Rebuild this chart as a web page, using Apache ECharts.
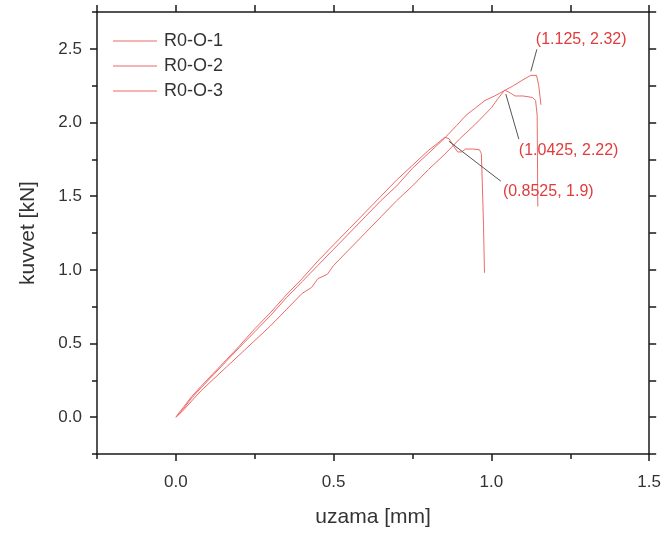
<!DOCTYPE html>
<html>
<head>
<meta charset="utf-8">
<script src="https://cdn.jsdelivr.net/npm/echarts@6/dist/echarts.min.js"></script>
<style>
html,body{margin:0;padding:0;background:#fff;}
#c{width:664px;height:533px;}
</style>
</head>
<body>
<div id="c"></div>
<script>
// ---- data ----
var seriesNames = ['R0-O-1', 'R0-O-2', 'R0-O-3'];

// R0-O-1 (peak 2.32)
var x1 = [0, 0.01, 0.025, 0.05, 0.08, 0.12, 0.16, 0.2, 0.25, 0.3, 0.35, 0.4, 0.45, 0.5, 0.55, 0.6, 0.65, 0.7, 0.75, 0.8, 0.85, 0.89, 0.92, 0.95, 0.98, 1.01, 1.044, 1.07, 1.1, 1.125, 1.143, 1.15, 1.157];
var y1 = [0, 0.02, 0.06, 0.13, 0.2, 0.29, 0.38, 0.47, 0.58, 0.69, 0.81, 0.92, 1.03, 1.14, 1.25, 1.36, 1.47, 1.57, 1.69, 1.79, 1.89, 1.98, 2.05, 2.10, 2.15, 2.18, 2.22, 2.25, 2.29, 2.32, 2.32, 2.25, 2.12];

// R0-O-2 (peak 2.22)
var x2 = [0, 0.01, 0.025, 0.05, 0.08, 0.12, 0.16, 0.2, 0.25, 0.3, 0.35, 0.4, 0.43, 0.45, 0.48, 0.5, 0.55, 0.6, 0.65, 0.7, 0.75, 0.8, 0.85, 0.9, 0.95, 1.0, 1.02, 1.0425, 1.06, 1.075, 1.1, 1.13, 1.14, 1.145, 1.147];
var y2 = [0, 0.02, 0.05, 0.11, 0.18, 0.26, 0.34, 0.42, 0.52, 0.62, 0.73, 0.84, 0.88, 0.94, 0.97, 1.03, 1.14, 1.25, 1.36, 1.47, 1.57, 1.68, 1.78, 1.89, 1.99, 2.1, 2.16, 2.22, 2.2, 2.18, 2.18, 2.17, 2.15, 2.05, 1.43];

// R0-O-3 (peak 1.9)
var x3 = [0, 0.01, 0.025, 0.05, 0.08, 0.12, 0.16, 0.2, 0.25, 0.3, 0.35, 0.4, 0.45, 0.5, 0.55, 0.6, 0.65, 0.7, 0.75, 0.8, 0.83, 0.8525, 0.866, 0.88, 0.893, 0.905, 0.918, 0.94, 0.962, 0.968, 0.971, 0.975, 0.978];
var y3 = [0, 0.03, 0.07, 0.14, 0.21, 0.3, 0.39, 0.48, 0.6, 0.71, 0.83, 0.94, 1.06, 1.17, 1.28, 1.39, 1.5, 1.61, 1.71, 1.81, 1.86, 1.9, 1.89, 1.84, 1.8, 1.8, 1.82, 1.82, 1.815, 1.79, 1.6, 1.3, 0.98];

// annotated peaks
var peakX = [1.125, 1.0425, 0.8525];
var peakY = [2.32, 2.22, 1.9];
var peakLabels = ['(1.125, 2.32)', '(1.0425, 2.22)', '(0.8525, 1.9)'];

// axis ticks
var xMajor = [0, 0.5, 1.0, 1.5];
var xMinor = [-0.25, 0.25, 0.75, 1.25];
var yMajor = [0, 0.5, 1.0, 1.5, 2.0, 2.5];
var yMinor = [-0.25, 0.25, 0.75, 1.25, 1.75, 2.25, 2.75];

// ---- layout / style ----
var FONT = '"Liberation Sans", Arial, sans-serif';
var LINE_COLOR = '#ec6a68';
var AXIS_COLOR = '#1a1a1a';
var TEXT_COLOR = '#333333';
var ANN_COLOR = '#e03c3c';
// annotation offsets relative to peak pixel: [lineStart, lineEnd, textLeftCenter]
var annLayout = [
  {ls: [0, -4], le: [6, -26], t: [5, -36]},
  {ls: [1, 4], le: [14, 49], t: [14, 61]},
  {ls: [4, 4], le: [56, 44], t: [58, 54]}
];

function pairs(xs, ys) { return xs.map(function (x, i) { return [x, ys[i]]; }); }
var allData = [pairs(x1, y1), pairs(x2, y2), pairs(x3, y3)];

var chart = echarts.init(document.getElementById('c'), null, {renderer: 'canvas'});

var axLine = {show: true, onZero: false, lineStyle: {color: AXIS_COLOR, width: 1.5}};
var noLine = {show: false, onZero: false};
var tickStyle = {color: AXIS_COLOR, width: 1.5};

var option = {
  backgroundColor: '#fff',
  animation: false,
  textStyle: {fontFamily: FONT},
  grid: {left: 97, right: 14, top: 12, bottom: 77, containLabel: false},
  legend: {
    orient: 'vertical', left: 108, top: 27,
    icon: 'rect', itemWidth: 44, itemHeight: 1.2, itemGap: 7,
    textStyle: {fontSize: 18, lineHeight: 18, color: TEXT_COLOR, fontFamily: FONT, padding: [0, 0, 0, 2]},
    data: seriesNames
  },
  xAxis: [
    {
      type: 'value', min: -0.25, max: 1.5, interval: 0.25, position: 'bottom',
      axisLine: axLine,
      axisTick: {show: true, inside: false, length: 7, customValues: xMajor, lineStyle: tickStyle},
      axisLabel: {customValues: xMajor, formatter: function (v) { return v.toFixed(1); },
        fontSize: 17, color: TEXT_COLOR, margin: 20, fontFamily: FONT},
      splitLine: {show: false},
      name: 'uzama [mm]', nameLocation: 'middle', nameGap: 53,
      nameTextStyle: {fontSize: 21, color: TEXT_COLOR, fontFamily: FONT}
    },
    {
      type: 'value', min: -0.25, max: 1.5, interval: 0.25, position: 'bottom',
      axisLine: noLine,
      axisTick: {show: true, length: 5, customValues: xMinor, lineStyle: tickStyle},
      axisLabel: {show: false}, splitLine: {show: false}
    },
    {
      type: 'value', min: -0.25, max: 1.5, interval: 0.25, position: 'top',
      axisLine: axLine,
      axisTick: {show: true, length: 7, lineStyle: tickStyle},
      axisLabel: {show: false}, splitLine: {show: false}
    }
  ],
  yAxis: [
    {
      type: 'value', min: -0.25, max: 2.75, interval: 0.25, position: 'left',
      axisLine: axLine,
      axisTick: {show: true, length: 7, customValues: yMajor, lineStyle: tickStyle},
      axisLabel: {customValues: yMajor, formatter: function (v) { return v.toFixed(1); },
        fontSize: 17, color: TEXT_COLOR, margin: 15, fontFamily: FONT},
      splitLine: {show: false},
      name: 'kuvvet [kN]', nameLocation: 'middle', nameGap: 58,
      nameTextStyle: {fontSize: 21, color: TEXT_COLOR, fontFamily: FONT}
    },
    {
      type: 'value', min: -0.25, max: 2.75, interval: 0.25, position: 'left',
      axisLine: noLine,
      axisTick: {show: true, length: 5, customValues: yMinor, lineStyle: tickStyle},
      axisLabel: {show: false}, splitLine: {show: false}
    },
    {
      type: 'value', min: -0.25, max: 2.75, interval: 0.25, position: 'right',
      axisLine: axLine,
      axisTick: {show: true, length: 7, lineStyle: tickStyle},
      axisLabel: {show: false}, splitLine: {show: false}
    }
  ],
  series: seriesNames.map(function (n, i) {
    return {
      name: n, type: 'line', xAxisIndex: 0, yAxisIndex: 0,
      data: allData[i], symbol: 'none', smooth: false,
      lineStyle: {color: LINE_COLOR, width: 1},
      itemStyle: {color: LINE_COLOR}
    };
  })
};
chart.setOption(option);

// annotations anchored to peaks
var g = [];
peakX.forEach(function (px, i) {
  var p = chart.convertToPixel({xAxisIndex: 0, yAxisIndex: 0}, [px, peakY[i]]);
  var L = annLayout[i];
  g.push({
    type: 'line', silent: true, z: 10,
    shape: {x1: p[0] + L.ls[0], y1: p[1] + L.ls[1], x2: p[0] + L.le[0], y2: p[1] + L.le[1]},
    style: {stroke: '#555', lineWidth: 1}
  });
  g.push({
    type: 'text', silent: true, z: 10,
    x: p[0] + L.t[0], y: p[1] + L.t[1],
    style: {text: peakLabels[i], fill: ANN_COLOR, font: '16px ' + FONT, textAlign: 'left', textVerticalAlign: 'middle'}
  });
});
chart.setOption({graphic: g});
</script>
</body>
</html>
